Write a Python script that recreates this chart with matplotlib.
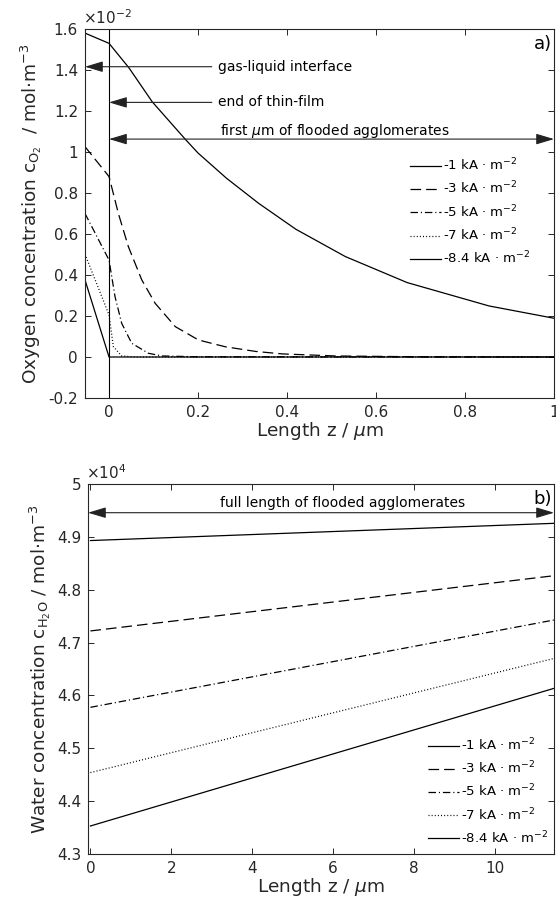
import matplotlib
matplotlib.use("Agg")
import matplotlib.pyplot as plt
from matplotlib.ticker import FuncFormatter, FixedLocator

plt.rcParams['font.family'] = ['DejaVu Sans']
plt.rcParams['axes.unicode_minus'] = False
plt.rcParams['mathtext.fontset'] = 'dejavusans'

# ---------------- data ----------------
labels = ['-1 kA · m$^{\\mathregular{-2}}$', '-3 kA · m$^{\\mathregular{-2}}$',
          '-5 kA · m$^{\\mathregular{-2}}$', '-7 kA · m$^{\\mathregular{-2}}$',
          '-8.4 kA · m$^{\\mathregular{-2}}$']

# panel a) oxygen concentration (x1e-2 mol/m3) vs length z (um)
z_a1 = [-0.054, 0, 0.045, 0.097, 0.171, 0.2, 0.264, 0.336, 0.42, 0.531, 0.67, 0.854, 1.0]
c_a1 = [1.58, 1.53, 1.41, 1.245, 1.063, 0.995, 0.872, 0.75, 0.623, 0.49, 0.363, 0.249, 0.189]
z_a3 = [-0.054, 0, 0.021, 0.0435, 0.0736, 0.1036, 0.149, 0.201, 0.261, 0.33, 0.39, 0.51, 0.7, 1.0]
c_a3 = [1.026, 0.88, 0.70, 0.538, 0.376, 0.262, 0.148, 0.083, 0.05, 0.027, 0.015, 0.005, 0.001, 0.0]
z_a5 = [-0.054, 0, 0.0135, 0.0285, 0.051, 0.0886, 0.12, 0.2, 1.0]
c_a5 = [0.70, 0.473, 0.294, 0.164, 0.067, 0.018, 0.005, 0.001, 0.0]
z_a7 = [-0.054, 0, 0.0098, 0.0285, 0.06, 1.0]
c_a7 = [0.502, 0.205, 0.05, 0.005, 0.0, 0.0]
z_a84 = [-0.054, 0, 1.0]
c_a84 = [0.376, 0.0, 0.0]

# panel b) water concentration (x1e4 mol/m3) vs length z (um)
z_b = [0, 11.47]
c_b1 = [4.893, 4.9256]
c_b3 = [4.722, 4.8265]
c_b5 = [4.5775, 4.7427]
c_b7 = [4.454, 4.670]
c_b84 = [4.353, 4.6134]

xticks_a = [0, 0.2, 0.4, 0.6, 0.8, 1]
yticks_a = [-0.2, 0, 0.2, 0.4, 0.6, 0.8, 1, 1.2, 1.4, 1.6]
xticks_b = [0, 2, 4, 6, 8, 10]
yticks_b = [4.3, 4.4, 4.5, 4.6, 4.7, 4.8, 4.9, 5]

# ---------------- styles ----------------
dark = '#262626'
styles = [dict(ls='-'), dict(ls=(0, (8.5, 4.0))), dict(ls=(0, (6, 2.3, 0.9, 2.3))),
          dict(ls=(0, (0.8, 1.7))), dict(ls='-')]
lw = 0.9

fig = plt.figure(figsize=(5.56, 9.06), dpi=100)
axA = fig.add_axes([85/556, 1-398/906, (554-85)/556, (398-29)/906])
axB = fig.add_axes([88/556, 1-854/906, (554-88)/556, (854-484)/906])

fmt = FuncFormatter(lambda v, p: '{:g}'.format(round(v, 6)))

def style_axes(ax):
    for s in ax.spines.values():
        s.set_color(dark)
        s.set_linewidth(0.8)
    ax.tick_params(direction='in', top=True, right=True, length=4.5, width=0.7,
                   colors=dark, labelsize=11, pad=5)
    ax.xaxis.set_major_formatter(fmt)
    ax.yaxis.set_major_formatter(fmt)

# ---- panel a
series_a = [(z_a1, c_a1), (z_a3, c_a3), (z_a5, c_a5), (z_a7, c_a7), (z_a84, c_a84)]
for (z, c), st, lab in zip(series_a, styles, labels):
    axA.plot(z, c, color='black', lw=lw, label=lab, **st)
axA.axvline(0, color='black', lw=0.8)
axA.set_xlim(-0.054, 1)
axA.set_ylim(-0.2, 1.6)
axA.xaxis.set_major_locator(FixedLocator(xticks_a))
axA.yaxis.set_major_locator(FixedLocator(yticks_a))
style_axes(axA)
axA.set_xlabel('Length z / $\\mu$m', fontsize=13.3, color=dark, labelpad=0)
axA.set_ylabel('Oxygen concentration c$_{\\mathregular{O_2}}$  / mol·m$^{\\mathregular{-3}}$',
               fontsize=13.3, color=dark, labelpad=3)
axA.text(-0.005, 1.005, '×10$^{\\mathregular{-2}}$', transform=axA.transAxes, ha='left', va='bottom',
         fontsize=11, color=dark)
axA.text(0.995, 0.985, 'a)', transform=axA.transAxes, ha='right', va='top', fontsize=13, color='black')

aprops = dict(arrowstyle='-|>,head_length=1.1,head_width=0.33', color='#222222', lw=0.8,
              shrinkA=0, shrinkB=0, mutation_scale=10)
dprops = dict(arrowstyle='<|-|>,head_length=1.1,head_width=0.33', color='#222222', lw=0.8,
              shrinkA=0, shrinkB=0, mutation_scale=10)
axA.annotate('', xy=(-0.054, 1.416), xytext=(0.231, 1.416), arrowprops=aprops)
axA.text(0.246, 1.416, 'gas-liquid interface', ha='left', va='center', fontsize=10, color='black')
axA.annotate('', xy=(0, 1.242), xytext=(0.231, 1.242), arrowprops=aprops)
axA.text(0.246, 1.242, 'end of thin-film', ha='left', va='center', fontsize=10, color='black')
axA.annotate('', xy=(0, 1.063), xytext=(1, 1.063), arrowprops=dprops)
axA.text(0.507, 1.104, 'first $\\mu$m of flooded agglomerates', ha='center', va='center',
         fontsize=10, color='black')
axA.legend(loc='upper left', bbox_to_anchor=(0.678, 0.671), frameon=False, fontsize=9.5,
           handlelength=2.35, handletextpad=0.15, labelspacing=0.5, borderpad=0)

# ---- panel b
series_b = [c_b1, c_b3, c_b5, c_b7, c_b84]
for c, st, lab in zip(series_b, styles, labels):
    axB.plot(z_b, c, color='black', lw=lw, label=lab, **st)
axB.set_xlim(-0.06, 11.47)
axB.set_ylim(4.3, 5.0)
axB.xaxis.set_major_locator(FixedLocator(xticks_b))
axB.yaxis.set_major_locator(FixedLocator(yticks_b))
style_axes(axB)
axB.set_xlabel('Length z / $\\mu$m', fontsize=13.3, color=dark, labelpad=0)
axB.set_ylabel('Water concentration c$_{\\mathregular{H_2O}}$ / mol·m$^{\\mathregular{-3}}$',
               fontsize=13.3, color=dark, labelpad=3)
axB.text(-0.005, 1.005, '×10$^{\\mathregular{4}}$', transform=axB.transAxes, ha='left', va='bottom',
         fontsize=11, color=dark)
axB.text(0.995, 0.985, 'b)', transform=axB.transAxes, ha='right', va='top', fontsize=13, color='black')
axB.annotate('', xy=(-0.06, 4.9457), xytext=(11.47, 4.9457), arrowprops=dprops)
axB.text(6.23, 4.9635, 'full length of flooded agglomerates', ha='center', va='center',
         fontsize=10, color='black')
axB.legend(loc='upper left', bbox_to_anchor=(0.716, 0.335), frameon=False, fontsize=9.5,
           handlelength=2.35, handletextpad=0.15, labelspacing=0.5, borderpad=0)

fig.savefig('out.png', dpi=100)
